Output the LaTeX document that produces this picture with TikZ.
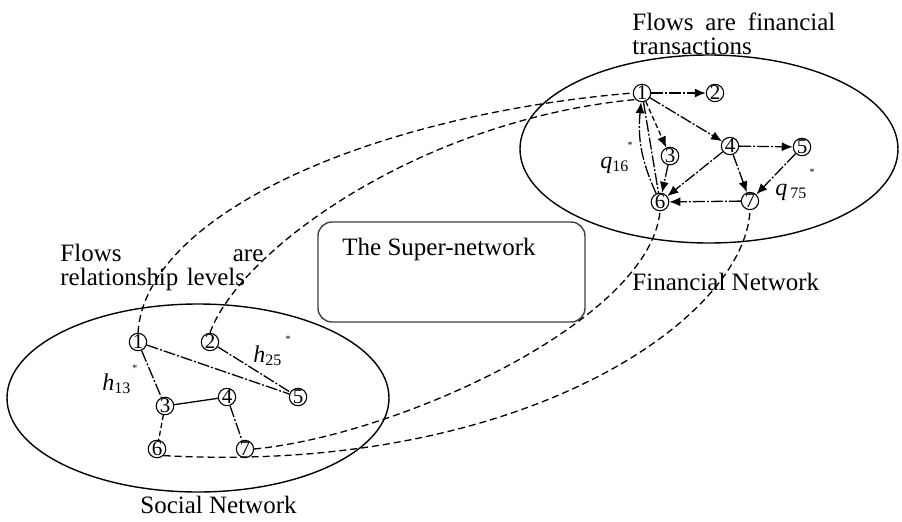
\documentclass[tikz,border=0pt]{standalone}
\usepackage{fontspec}
\setmainfont{Liberation Serif}
\usetikzlibrary{arrows.meta}
\begin{document}
\begin{tikzpicture}[x=0.5pt,y=-0.5pt,
  vtx/.style={circle,draw,line width=0.55pt,minimum size=8pt,inner sep=0pt,font=\fontsize{10.5}{10.5}\selectfont},
  link/.style={line width=0.65pt,dash pattern=on 6pt off 1pt on 1pt off 1pt},
  dlink/.style={line width=0.65pt,dash pattern=on 2.5pt off 1.5pt},
  flow/.style={link,-{Latex[length=5.5pt,width=4.5pt]}},
  dflow/.style={dlink,-{Latex[length=5.5pt,width=4.5pt]}},
  bridge/.style={line width=0.65pt,dash pattern=on 3.5pt off 2pt},
  netline/.style={line width=0.7pt},
  caption/.style={font=\fontsize{12.5}{12}\selectfont,inner sep=0pt,anchor=base west},
  lab/.style={font=\fontsize{12}{12}\selectfont,inner sep=0pt,anchor=base west},
  star/.style={font=\fontsize{5}{5}\selectfont,inner sep=0pt}
]
\useasboundingbox (0,0) rectangle (902,521);

% network outlines
\draw[netline] (709,149) ellipse [x radius=189, y radius=94];
\draw[netline] (198,398) ellipse [x radius=191, y radius=94];
\node (superbox) [draw=black!75,line width=0.7pt,rounded corners=7pt,
  minimum width=133.5pt,minimum height=50pt,inner sep=0pt] at (451.5,272) {};

% captions
\node[caption,text width=101.5pt] (fincap) at (632,30)
  {Flows\hfill are\hfill financial\\transactions};
\node[caption,text width=101.5pt] (soccap) at (60,261)
  {Flows\hfill are\\relationship levels};
\node[caption] (suptitle) at (342,255) {The Super-network};
\node[caption] (finname) at (632,290) {Financial Network};
\node[caption] (socname) at (140,513) {Social Network};

% financial network
\node[vtx] (f1) at (642,93) {1};
\node[vtx] (f2) at (715,93) {2};
\node[vtx] (f3) at (670,156) {3};
\node[vtx] (f4) at (730,146) {4};
\node[vtx] (f5) at (802,147) {5};
\node[vtx] (f6) at (660,202) {6};
\node[vtx] (f7) at (750,201) {7};

\draw[flow] (f1) -- (f2);
\draw[flow] (f1) -- (f4);
\draw[dflow] (f1) -- (f3);
\draw[flow] (f3) -- (f6);
\draw[flow] (f4) -- (f6);
\draw[flow] (f4) -- (f5);
\draw[flow] (f4) -- (f7);
\draw[flow] (f5) -- (f7);
\draw[flow] (f7) -- (f6);
\draw[link] (f1) -- (f6);
\draw[flow] (f6) to[bend left=15] (f1);

\node[lab] (q16) at (600,168) {\textit{q}\textsubscript{16}};
\node[star] (q16s) at (630,145) {*};
\node[lab] (q75) at (775,195) {\textit{q}\hspace{1.5pt}\textsubscript{75}};
\node[star] (q75s) at (812,172) {*};

% social network
\node[vtx] (s1) at (138,342) {1};
\node[vtx] (s2) at (210,342) {2};
\node[vtx] (s3) at (165,406) {3};
\node[vtx] (s4) at (227,397) {4};
\node[vtx] (s5) at (298,397) {5};
\node[vtx] (s6) at (157,449) {6};
\node[vtx] (s7) at (245,449) {7};

\draw[link] (s1) -- (s3);
\draw[link] (s1) -- (s5);
\draw[link] (s2) -- (s5);
\draw[line width=0.65pt] (s3) -- (s4);
\draw[link] (s4) -- (s7);
\draw[dlink] (s3) -- (s6);

\node[lab] (h13) at (102,390) {\textit{h}\textsubscript{13}};
\node[star] (h13s) at (135,368) {*};
\node[lab] (h25) at (253,362) {\textit{h}\textsubscript{25}};
\node[star] (h25s) at (288,339) {*};

% links between the two networks
\draw[bridge] (s1.north) .. controls (145,215) and (370,115) .. (f1.west);
\draw[bridge] (s2.north) .. controls (240,250) and (420,120) .. (f1.south west);
\draw[bridge] (s7.east) .. controls (400,435) and (650,320) .. (f6.south);
\draw[bridge] (s6.south east) .. controls (520,475) and (745,320) .. (f7.south);
\end{tikzpicture}
\end{document}
